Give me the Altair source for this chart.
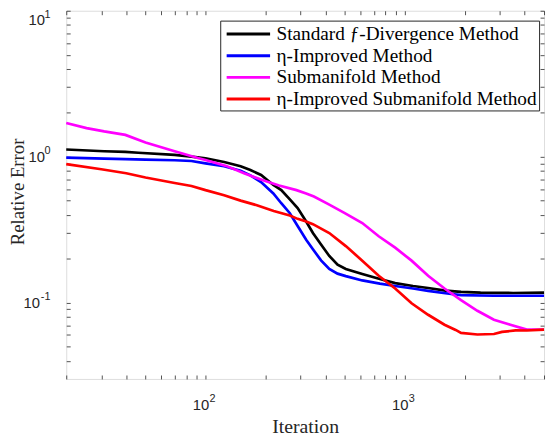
import altair as alt
import pandas as pd

names = ["Standard ƒ-Divergence Method", "η-Improved Method",
         "Submanifold Method", "η-Improved Submanifold Method"]
colors = ["#000000", "#0000ff", "#ff00ff", "#ff0000"]

std_x = [20, 31, 39.6, 46, 70, 85, 100, 124, 150, 168, 190, 219, 240, 265, 290, 320,
         346, 380, 418, 460, 506, 612, 750, 895, 1100, 1310, 1600, 1916, 2400, 2802, 3500, 5000]
std_y = [1.12, 1.09, 1.08, 1.065, 1.03, 1.0, 0.975, 0.92, 0.86, 0.81, 0.75, 0.64, 0.59, 0.51, 0.445, 0.36,
         0.30, 0.25, 0.209, 0.182, 0.17, 0.157, 0.145, 0.136, 0.13, 0.126, 0.121, 0.1186, 0.117, 0.1167, 0.1165, 0.117]

eta_x = [20, 31, 39.6, 50, 70, 85, 100, 124, 150, 168, 190, 219, 240, 265, 290, 320,
         346, 380, 418, 460, 506, 612, 750, 895, 1100, 1310, 1600, 1916, 2802, 5000]
eta_y = [0.986, 0.97, 0.962, 0.955, 0.945, 0.935, 0.9, 0.86, 0.8, 0.745, 0.67, 0.56, 0.48, 0.41, 0.335, 0.27,
         0.232, 0.195, 0.17, 0.158, 0.152, 0.142, 0.135, 0.13, 0.125, 0.1205, 0.116, 0.1125, 0.1115, 0.1115]

sub_x = [20, 25.3, 31, 39.6, 50, 70, 91.5, 100, 127, 156, 196, 234, 286, 320, 350, 418, 500,
         612, 740, 895, 1082, 1310, 1583, 1916, 2315, 2802, 3388, 4096, 5000]
sub_y = [1.70, 1.57, 1.49, 1.41, 1.25, 1.09, 0.98, 0.95, 0.865, 0.77, 0.686, 0.634, 0.59, 0.56, 0.533, 0.47, 0.41,
         0.351, 0.285, 0.238, 0.194, 0.153, 0.125, 0.104, 0.088, 0.0764, 0.0706, 0.0654, 0.0654]

esub_x = [20, 30, 40, 50, 70, 85, 100, 124, 150, 181, 220, 265, 290, 320, 346, 418, 506,
          612, 740, 895, 1082, 1310, 1583, 1800, 1916, 2315, 2802, 3078, 3600, 4096, 5000]
esub_y = [0.89, 0.82, 0.77, 0.72, 0.66, 0.63, 0.59, 0.545, 0.50, 0.465, 0.425, 0.395, 0.375, 0.36, 0.345, 0.30, 0.244,
          0.194, 0.153, 0.125, 0.099, 0.0826, 0.0706, 0.065, 0.0621, 0.0605, 0.061, 0.063, 0.0645, 0.0644, 0.0654]

x_ticks = [20, 30, 40, 50, 60, 70, 80, 90, 100, 200, 300, 400, 500, 600, 700, 800, 900,
           1000, 2000, 3000, 4000, 5000]
y_ticks = [0.04, 0.05, 0.06, 0.07, 0.08, 0.09, 0.1, 0.2, 0.3, 0.4, 0.5, 0.6, 0.7, 0.8, 0.9,
           1, 2, 3, 4, 5, 6, 7, 8, 9, 10]

# tick-label exponents (decade labels are drawn as "10" + superscript)
x_dec = [100, 1000]
x_exp = ["2", "3"]
y_dec = [0.1, 1]
y_exp = ["-1", "0"]
y_top_dec = [10]
y_top_exp = ["1"]

rows = []
for name, xs_, ys_ in zip(names, [std_x, eta_x, sub_x, esub_x], [std_y, eta_y, sub_y, esub_y]):
    for a, b in zip(xs_, ys_):
        rows.append({"method": name, "iter": a, "err": b})
df = pd.DataFrame(rows)

xs = alt.Scale(type="log", domain=[20, 5000], nice=False)
ys = alt.Scale(type="log", domain=[0.03, 10], nice=False)

AX = "#262626"
common = dict(domain=False, grid=False, ticks=True, tickSize=4, offset=-4,
              tickColor=AX, tickWidth=0.8, labelOverlap=False, labelFlush=False)

x_bottom = alt.Axis(values=x_ticks,
                    labelExpr="datum.value == 100 || datum.value == 1000 ? '10' : ''",
                    labelFont="Liberation Sans", labelFontSize=15, labelColor=AX,
                    labelPadding=31, labelBaseline="alphabetic", labelOffset=-5,
                    title="Iteration", titleFont="Liberation Serif", titleFontSize=20,
                    titleFontWeight="normal", titleColor=AX, titleX=242, titleY=58,
                    titleBaseline="alphabetic", **common)
y_left = alt.Axis(values=y_ticks,
                  labelExpr="datum.value == 0.1 || datum.value == 1 || datum.value == 10 ? '10' : ''",
                  labelFont="Liberation Sans", labelFontSize=15, labelColor=AX,
                  labelPadding={"condition": {"test": "datum.value == 0.1", "value": 27}, "value": 22},
                  labelOffset={"condition": {"test": "datum.value == 10", "value": 9}, "value": 0},
                  title="Relative Error", titleFont="Liberation Serif", titleFontSize=19,
                  titleFontWeight="normal", titleColor=AX, titleX=-47, titleY=183,
                  titleBaseline="alphabetic", **common)
x_top = alt.Axis(values=x_ticks, orient="top", labels=False, title=None, **common)
y_right = alt.Axis(values=y_ticks, orient="right", labels=False, title=None, **common)

legend = alt.Legend(title=None, orient="none", legendX=156, legendY=10,
                    symbolType="M-2.2,0H2.2", symbolSize=400, symbolStrokeWidth=3,
                    symbolOffset=15, labelOffset=17, symbolFillColor="transparent",
                    labelFont="Liberation Serif", labelFontSize=19.5, labelColor="black",
                    labelLimit=400, padding=2, rowPadding=1, strokeColor=AX, fillColor="white")

lines = alt.Chart(df).mark_line(strokeWidth=2.7).encode(
    x=alt.X("iter:Q", scale=xs, axis=x_top),
    y=alt.Y("err:Q", scale=ys, axis=y_right),
    color=alt.Color("method:N", scale=alt.Scale(domain=names, range=colors), legend=legend),
)
frame = alt.Chart(df).mark_point(opacity=0).encode(
    x=alt.X("iter:Q", scale=xs, axis=x_bottom),
    y=alt.Y("err:Q", scale=ys, axis=y_left),
)

exp_style = dict(font="Liberation Sans", fontSize=11, color=AX)
x_sup = alt.Chart(pd.DataFrame({"v": x_dec, "e": x_exp})).mark_text(
    align="left", baseline="alphabetic", dx=4, **exp_style).encode(
    x=alt.X("v:Q", scale=xs, axis=None), y=alt.value(396), text="e:N")
y_sup = alt.Chart(pd.DataFrame({"v": y_dec, "e": y_exp})).mark_text(
    align="right", baseline="middle", dy=-5.5, **exp_style).encode(
    y=alt.Y("v:Q", scale=ys, axis=None), x=alt.value(-16), text="e:N")
y_sup_top = alt.Chart(pd.DataFrame({"v": y_top_dec, "e": y_top_exp})).mark_text(
    align="right", baseline="middle", dy=4.5, **exp_style).encode(
    y=alt.Y("v:Q", scale=ys, axis=None), x=alt.value(-16), text="e:N")

chart = alt.layer(lines, frame, x_sup, y_sup, y_sup_top).resolve_axis(
    x="independent", y="independent").properties(
    width=484, height=373,
    autosize=alt.AutoSizeParams(type="none"),
    padding={"left": 59, "top": 0, "right": 2, "bottom": 55},
).configure_view(stroke=AX, strokeWidth=1).configure(background="white")

chart.save("out.html", embed_options={"renderer": "svg", "actions": False})
